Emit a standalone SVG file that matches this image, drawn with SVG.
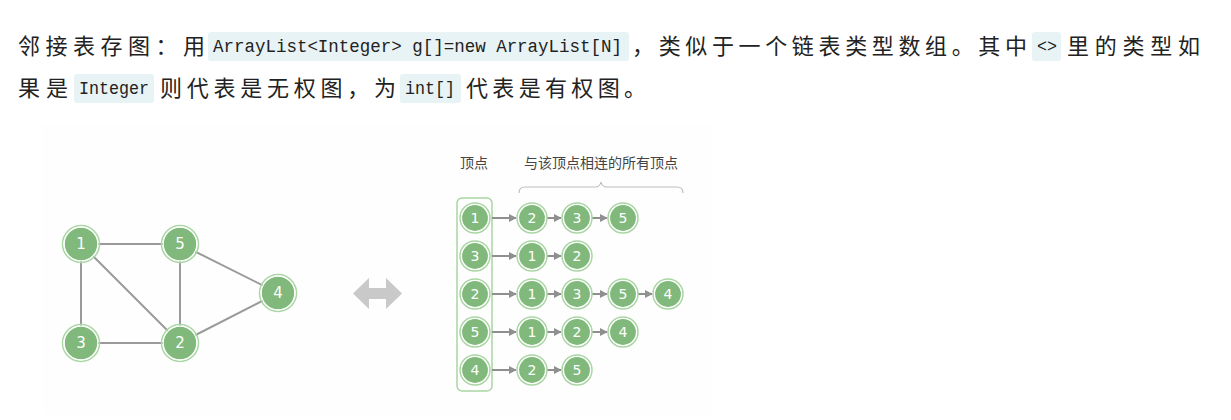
<svg xmlns="http://www.w3.org/2000/svg" width="1231" height="420" viewBox="0 0 1231 420">
<style>
.cn{font-family:"Noto Sans CJK SC","Noto Sans CJK JP",sans-serif;font-size:22px;fill:#222}
.code{font-family:"Liberation Mono","DejaVu Sans Mono",monospace;font-size:18px;fill:#222}
.cb{fill:#e8f3f5}
.edge{stroke:#9a9a9a;stroke-width:2;fill:none}
.arr{stroke:#8f8f8f;stroke-width:2;fill:none;marker-end:url(#ah)}
.ring{fill:none;stroke:#a9d6a3;stroke-width:1.5}
.fill{fill:#80b97b;stroke:#ffffff;stroke-width:1.2}
.lbl{font-family:"DejaVu Sans","Liberation Sans",sans-serif;font-size:14px;fill:#ffffff;text-anchor:middle;dominant-baseline:central}
.lblL{font-size:15px}
.hdr{font-family:"Noto Sans CJK SC",sans-serif;font-size:14px;fill:#444;text-anchor:middle}
</style>
<defs>
<marker id="ah" viewBox="0 0 10 10" refX="9" refY="5" markerWidth="4" markerHeight="4" orient="auto" markerUnits="strokeWidth">
<path d="M0,0 L10,5 L0,10 z" fill="#8f8f8f"/>
</marker>
</defs>
<rect width="1231" height="420" fill="#ffffff"/>

<!-- paragraph text -->
<g id="text">
<rect class="cb" x="208" y="32" width="421" height="29" rx="3"/>
<rect class="cb" x="1032" y="32" width="29" height="29" rx="3"/>
<rect class="cb" x="74" y="74" width="80" height="29" rx="3"/>
<rect class="cb" x="400" y="74" width="61" height="29" rx="3"/>
<text class="cn" x="18" y="54" textLength="187" lengthAdjust="spacing">邻接表存图：用</text>
<text class="code" x="213" y="52" textLength="409" lengthAdjust="spacingAndGlyphs">ArrayList&lt;Integer&gt; g[]=new ArrayList[N]</text>
<text class="cn" x="632" y="54" textLength="395" lengthAdjust="spacing">，类似于一个链表类型数组。其中</text>
<text class="code" x="1037" y="52" textLength="20" lengthAdjust="spacingAndGlyphs">&lt;&gt;</text>
<text class="cn" x="1067" y="54" textLength="133" lengthAdjust="spacing">里的类型如</text>
<text class="cn" x="18" y="96" textLength="50" lengthAdjust="spacing">果是</text>
<text class="code" x="79" y="94" textLength="70" lengthAdjust="spacingAndGlyphs">Integer</text>
<text class="cn" x="160" y="96" textLength="236" lengthAdjust="spacing">则代表是无权图，为</text>
<text class="code" x="405" y="94" textLength="50" lengthAdjust="spacingAndGlyphs">int[]</text>
<text class="cn" x="466" y="96" textLength="180" lengthAdjust="spacing">代表是有权图。</text>
</g>

<rect x="42" y="125" width="670" height="290" fill="#fefefe"/>

<!-- left graph connectors -->
<g id="graph-edges">
<line class="edge" x1="81" y1="244" x2="180" y2="244"/>
<line class="edge" x1="81" y1="244" x2="81" y2="343"/>
<line class="edge" x1="81" y1="244" x2="180" y2="343"/>
<line class="edge" x1="180" y1="244" x2="180" y2="343"/>
<line class="edge" x1="180" y1="244" x2="278" y2="293"/>
<line class="edge" x1="81" y1="343" x2="180" y2="343"/>
<line class="edge" x1="180" y1="343" x2="278" y2="293"/>
</g>

<g id="g1"><circle class="ring" cx="81" cy="244" r="18.5"/><circle class="fill" cx="81" cy="244" r="16.8"/><text class="lbl lblL" x="81" y="244">1</text></g>
<g id="g5"><circle class="ring" cx="180" cy="244" r="18.5"/><circle class="fill" cx="180" cy="244" r="16.8"/><text class="lbl lblL" x="180" y="244">5</text></g>
<g id="g4"><circle class="ring" cx="278" cy="293" r="18.5"/><circle class="fill" cx="278" cy="293" r="16.8"/><text class="lbl lblL" x="278" y="293">4</text></g>
<g id="g3"><circle class="ring" cx="81" cy="343" r="18.5"/><circle class="fill" cx="81" cy="343" r="16.8"/><text class="lbl lblL" x="81" y="343">3</text></g>
<g id="g2"><circle class="ring" cx="180" cy="343" r="18.5"/><circle class="fill" cx="180" cy="343" r="16.8"/><text class="lbl lblL" x="180" y="343">2</text></g>

<!-- double arrow -->
<g id="dbl-arrow">
<path d="M353,293.5 L369,278 L369,288 L386,288 L386,278 L402,293.5 L386,309 L386,299 L369,299 L369,309 Z" fill="#c9c9c9"/>
</g>

<!-- headers -->
<g id="headers">
<text class="hdr" x="474" y="168">顶点</text>
<text class="hdr" x="601" y="168">与该顶点相连的所有顶点</text>
<path d="M519,193 Q519,187 525,187 L595,187 Q600,187 601,182 Q602,187 607,187 L677,187 Q683,187 683,193" fill="none" stroke="#bdbdbd" stroke-width="1.2"/>
</g>

<rect id="vertex-column" x="457" y="198" width="35" height="193" rx="5" fill="none" stroke="#a9d6a3" stroke-width="1.5"/>

<!-- adjacency list connectors -->
<g id="list-arrows">
<line class="arr" x1="492" y1="218" x2="516" y2="218"/>
<line class="arr" x1="547" y1="218" x2="561" y2="218"/>
<line class="arr" x1="592" y1="218" x2="607" y2="218"/>
<line class="arr" x1="492" y1="256" x2="516" y2="256"/>
<line class="arr" x1="547" y1="256" x2="561" y2="256"/>
<line class="arr" x1="492" y1="294" x2="516" y2="294"/>
<line class="arr" x1="547" y1="294" x2="561" y2="294"/>
<line class="arr" x1="592" y1="294" x2="607" y2="294"/>
<line class="arr" x1="638" y1="294" x2="652" y2="294"/>
<line class="arr" x1="492" y1="332" x2="516" y2="332"/>
<line class="arr" x1="547" y1="332" x2="561" y2="332"/>
<line class="arr" x1="592" y1="332" x2="607" y2="332"/>
<line class="arr" x1="492" y1="370" x2="516" y2="370"/>
<line class="arr" x1="547" y1="370" x2="561" y2="370"/>
</g>

<!-- row 1 -->
<g id="r1-v"><circle class="ring" cx="475" cy="218" r="15"/><circle class="fill" cx="475" cy="218" r="13.5"/><text class="lbl" x="475" y="218">1</text></g>
<g id="r1-a"><circle class="ring" cx="532" cy="218" r="15"/><circle class="fill" cx="532" cy="218" r="13.5"/><text class="lbl" x="532" y="218">2</text></g>
<g id="r1-b"><circle class="ring" cx="577" cy="218" r="15"/><circle class="fill" cx="577" cy="218" r="13.5"/><text class="lbl" x="577" y="218">3</text></g>
<g id="r1-c"><circle class="ring" cx="623" cy="218" r="15"/><circle class="fill" cx="623" cy="218" r="13.5"/><text class="lbl" x="623" y="218">5</text></g>
<!-- row 2 -->
<g id="r2-v"><circle class="ring" cx="475" cy="256" r="15"/><circle class="fill" cx="475" cy="256" r="13.5"/><text class="lbl" x="475" y="256">3</text></g>
<g id="r2-a"><circle class="ring" cx="532" cy="256" r="15"/><circle class="fill" cx="532" cy="256" r="13.5"/><text class="lbl" x="532" y="256">1</text></g>
<g id="r2-b"><circle class="ring" cx="577" cy="256" r="15"/><circle class="fill" cx="577" cy="256" r="13.5"/><text class="lbl" x="577" y="256">2</text></g>
<!-- row 3 -->
<g id="r3-v"><circle class="ring" cx="475" cy="294" r="15"/><circle class="fill" cx="475" cy="294" r="13.5"/><text class="lbl" x="475" y="294">2</text></g>
<g id="r3-a"><circle class="ring" cx="532" cy="294" r="15"/><circle class="fill" cx="532" cy="294" r="13.5"/><text class="lbl" x="532" y="294">1</text></g>
<g id="r3-b"><circle class="ring" cx="577" cy="294" r="15"/><circle class="fill" cx="577" cy="294" r="13.5"/><text class="lbl" x="577" y="294">3</text></g>
<g id="r3-c"><circle class="ring" cx="623" cy="294" r="15"/><circle class="fill" cx="623" cy="294" r="13.5"/><text class="lbl" x="623" y="294">5</text></g>
<g id="r3-d"><circle class="ring" cx="668" cy="294" r="15"/><circle class="fill" cx="668" cy="294" r="13.5"/><text class="lbl" x="668" y="294">4</text></g>
<!-- row 4 -->
<g id="r4-v"><circle class="ring" cx="475" cy="332" r="15"/><circle class="fill" cx="475" cy="332" r="13.5"/><text class="lbl" x="475" y="332">5</text></g>
<g id="r4-a"><circle class="ring" cx="532" cy="332" r="15"/><circle class="fill" cx="532" cy="332" r="13.5"/><text class="lbl" x="532" y="332">1</text></g>
<g id="r4-b"><circle class="ring" cx="577" cy="332" r="15"/><circle class="fill" cx="577" cy="332" r="13.5"/><text class="lbl" x="577" y="332">2</text></g>
<g id="r4-c"><circle class="ring" cx="623" cy="332" r="15"/><circle class="fill" cx="623" cy="332" r="13.5"/><text class="lbl" x="623" y="332">4</text></g>
<!-- row 5 -->
<g id="r5-v"><circle class="ring" cx="475" cy="370" r="15"/><circle class="fill" cx="475" cy="370" r="13.5"/><text class="lbl" x="475" y="370">4</text></g>
<g id="r5-a"><circle class="ring" cx="532" cy="370" r="15"/><circle class="fill" cx="532" cy="370" r="13.5"/><text class="lbl" x="532" y="370">2</text></g>
<g id="r5-b"><circle class="ring" cx="577" cy="370" r="15"/><circle class="fill" cx="577" cy="370" r="13.5"/><text class="lbl" x="577" y="370">5</text></g>
</svg>
